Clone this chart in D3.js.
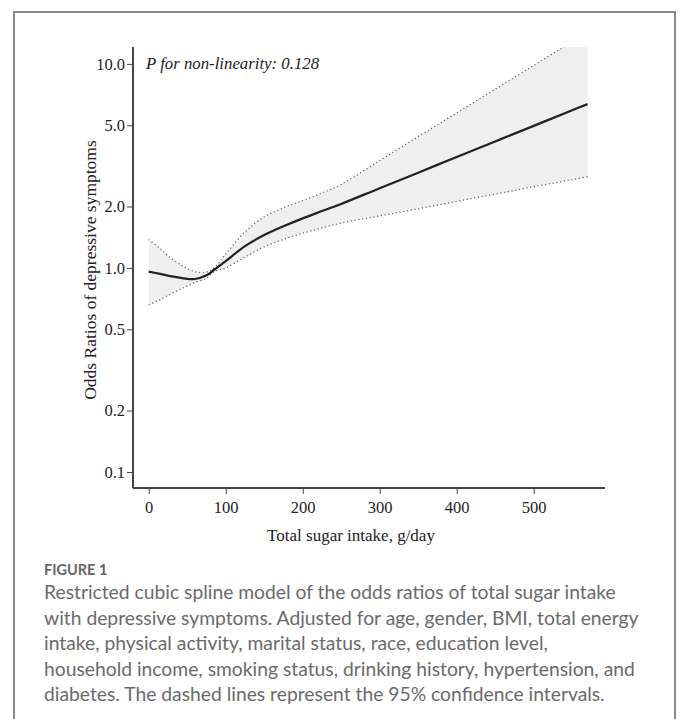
<!DOCTYPE html>
<html>
<head>
<meta charset="utf-8">
<script src="https://cdn.jsdelivr.net/npm/d3@7"></script>
<style>
  html, body { margin: 0; padding: 0; background: #fff; }
  svg { display: block; }
</style>
</head>
<body>
<svg id="chart" width="681" height="719"></svg>
<script>
// ---- Data ----
const sugar = [0, 15, 30, 45, 60, 75, 85, 100, 125, 150, 175, 200, 225, 250, 300, 350, 400, 450, 500, 550, 570];
const orMain = [0.96, 0.935, 0.91, 0.89, 0.883, 0.92, 0.98, 1.08, 1.28, 1.45, 1.60, 1.75, 1.90, 2.06, 2.46, 2.93, 3.50, 4.17, 4.97, 5.93, 6.35];
const orUpper = [1.38, 1.24, 1.11, 1.02, 0.96, 0.955, 1.00, 1.17, 1.50, 1.78, 1.97, 2.14, 2.33, 2.57, 3.36, 4.40, 5.75, 7.52, 9.83, 12.85, 14.4];
const orLower = [0.66, 0.70, 0.75, 0.80, 0.85, 0.89, 0.96, 1.00, 1.13, 1.27, 1.38, 1.48, 1.57, 1.66, 1.80, 1.95, 2.12, 2.30, 2.50, 2.71, 2.80];
const xTicks = [0, 100, 200, 300, 400, 500];
const yTicks = [0.1, 0.2, 0.5, 1.0, 2.0, 5.0, 10.0];
const annotation = "P for non-linearity: 0.128";
const xTitle = "Total sugar intake, g/day";
const yTitle = "Odds Ratios of depressive symptoms";
const figLabel = "FIGURE 1";
const captionLines = [
  "Restricted cubic spline model of the odds ratios of total sugar intake",
  "with depressive symptoms. Adjusted for age, gender, BMI, total energy",
  "intake, physical activity, marital status, race, education level,",
  "household income, smoking status, drinking history, hypertension, and",
  "diabetes. The dashed lines represent the 95% confidence intervals."
];

(function () {
const svg = d3.select("#chart");

// frame
svg.append("rect")
  .attr("x", 14).attr("y", 12).attr("width", 661).attr("height", 730)
  .attr("fill", "none").attr("stroke", "#8a8a8a").attr("stroke-width", 2);

const pL = 133, pR = 605, pT = 47, pB = 488;
const x = d3.scaleLinear().domain([-20.4, 592.6]).range([pL, pR]);
const y = d3.scaleLog().domain([0.0835, 12.1]).range([pB, pT]);

const data = sugar.map((s, i) => ({ s, m: orMain[i], u: orUpper[i], l: orLower[i] }));

svg.append("clipPath").attr("id", "clip")
  .append("rect").attr("x", pL).attr("y", pT).attr("width", pR - pL).attr("height", pB - pT);

const g = svg.append("g").attr("clip-path", "url(#clip)");
const curve = d3.curveCatmullRom.alpha(0.5);

g.append("path").datum(data)
  .attr("d", d3.area().curve(curve).x(d => x(d.s)).y0(d => y(d.l)).y1(d => y(d.u)))
  .attr("fill", "#efefef");

["u", "l"].forEach(k => {
  g.append("path").datum(data)
    .attr("d", d3.line().curve(curve).x(d => x(d.s)).y(d => y(d[k])))
    .attr("fill", "none").attr("stroke", "#666").attr("stroke-width", 1.3)
    .attr("stroke-dasharray", "1.2,2.6");
});

g.append("path").datum(data)
  .attr("d", d3.line().curve(curve).x(d => x(d.s)).y(d => y(d.m)))
  .attr("fill", "none").attr("stroke", "#222").attr("stroke-width", 2.2);

// axes
const serif = "'Liberation Serif', 'Times New Roman', serif";
const yAxis = d3.axisLeft(y).tickValues(yTicks).tickFormat(d3.format(".1f")).tickSize(6).tickPadding(2);
const yg = svg.append("g").attr("transform", `translate(${pL},0)`).call(yAxis);
const xAxis = d3.axisBottom(x).tickValues(xTicks).tickFormat(d3.format("d")).tickSize(6).tickPadding(7);
const xg = svg.append("g").attr("transform", `translate(0,${pB})`).call(xAxis);

[yg, xg].forEach(ax => {
  ax.select(".domain").attr("stroke", "#444").attr("stroke-width", 2);
  ax.selectAll(".tick line").attr("stroke", "#444").attr("stroke-width", 1);
  ax.selectAll(".tick text").attr("font-family", serif).attr("font-size", 16.5).attr("fill", "#222");
});
yg.select(".domain").attr("d", `M0,${pT}V${pB}`);
xg.select(".domain").attr("d", `M${pL},0H${pR}`);

// annotation
svg.append("text").attr("x", 146).attr("y", 69)
  .attr("font-family", serif).attr("font-style", "italic").attr("font-size", 16.8)
  .attr("fill", "#222").text(annotation);

// axis titles
svg.append("text").attr("x", 351).attr("y", 541)
  .attr("text-anchor", "middle").attr("font-family", serif).attr("font-size", 17)
  .attr("fill", "#222").text(xTitle);
svg.append("text").attr("transform", "translate(96,270) rotate(-90)")
  .attr("text-anchor", "middle").attr("font-family", serif).attr("font-size", 17.5)
  .attr("fill", "#222").text(yTitle);

// caption
const sans = "Lato, 'Open Sans', sans-serif";
svg.append("text").attr("x", 44).attr("y", 575)
  .attr("font-family", sans).attr("font-weight", "bold").attr("font-size", 14.5)
  .attr("fill", "#666").text(figLabel);
svg.append("g").selectAll("text").data(captionLines).join("text")
  .attr("x", 44).attr("y", (d, i) => 599 + i * 25.5)
  .attr("font-family", sans).attr("font-size", 19.3)
  .attr("fill", "#6a6a6a").text(d => d);
})();
</script>
</body>
</html>
